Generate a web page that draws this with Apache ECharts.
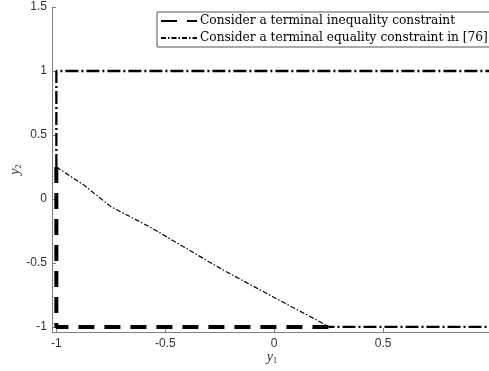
<!DOCTYPE html>
<html>
<head>
<meta charset="utf-8">
<script src="https://cdn.jsdelivr.net/npm/echarts@6/dist/echarts.min.js"></script>
<style>
  html, body { margin: 0; padding: 0; background: #fff; }
  #main { width: 489px; height: 371px; }
</style>
</head>
<body>
<div id="main"></div>
<script>
  // thick dashed part (terminal inequality constraint)
  var ineqX = [-1, -1, 0.25];
  var ineqY = [0.25, -1, -1];
  // shared boundary of the equality-constraint region
  var boundX = [-1, -1, 1, 1, 0.25];
  var boundY = [0.25, 1, 1, -1, -1];
  // lower-left boundary curve (terminal equality constraint in [76])
  var curveX = [-1, -0.875, -0.75, -0.57, -0.4, -0.24, 0, 0.21, 0.25];
  var curveY = [0.25, 0.11, -0.06, -0.22, -0.39, -0.55, -0.77, -0.96, -1];

  var xTicks = [-1, -0.5, 0, 0.5];
  var yTicks = [-1, -0.5, 0, 0.5, 1, 1.5];

  var nameIneq = 'Consider a terminal inequality constraint';
  var nameEq = 'Consider a terminal equality constraint in [76]';

  function pairs(xs, ys) {
    var out = [];
    for (var i = 0; i < xs.length; i++) out.push([xs[i], ys[i]]);
    return out;
  }

  var axisColor = '#808080';
  var labelColor = '#333';

  var myChart = echarts.init(document.getElementById('main'));
  var option = {
    animation: false,
    backgroundColor: '#fff',
    grid: { left: 52, top: 7, width: 440, height: 325, outerBoundsMode: 'none', containLabel: false },
    legend: {
      data: [nameIneq, nameEq],
      orient: 'vertical',
      left: 157,
      top: 12,
      padding: [3, 3, 3, 3],
      itemWidth: 36,
      itemHeight: 14,
      itemGap: 5,
      borderColor: '#555',
      borderWidth: 1,
      borderRadius: 0,
      backgroundColor: '#fff',
      itemStyle: { opacity: 0 },
      textStyle: { fontFamily: 'DejaVu Serif', fontSize: 12.2, color: '#000', padding: [0, 0, 0, -2] }
    },
    xAxis: {
      type: 'value',
      min: -1.02,
      max: 1,
      minInterval: 0.5,
      maxInterval: 0.5,
      name: '{a|y}{b|1}',
      nameLocation: 'middle',
      nameGap: 18,
      nameMoveOverlap: false,
      nameTextStyle: {
        rich: {
          a: { fontFamily: 'Liberation Serif', fontStyle: 'italic', fontSize: 14, color: labelColor },
          b: { fontFamily: 'Liberation Serif', fontSize: 9, color: labelColor, padding: [6, 0, 0, 0] }
        }
      },
      splitLine: { show: false },
      axisLine: { onZero: false, lineStyle: { color: axisColor } },
      axisTick: { inside: true, length: 4, lineStyle: { color: axisColor } },
      axisLabel: {
        showMinLabel: false, showMaxLabel: false, margin: 6,
        color: labelColor, fontFamily: 'Liberation Sans', fontSize: 12,
        formatter: function (v) { return xTicks.indexOf(v) >= 0 ? String(v) : ''; }
      }
    },
    yAxis: {
      type: 'value',
      min: -1.04,
      max: 1.5,
      minInterval: 0.5,
      maxInterval: 0.5,
      name: '{a|y}{b|2}',
      nameLocation: 'middle',
      nameGap: 29,
      nameMoveOverlap: false,
      nameTextStyle: {
        rich: {
          a: { fontFamily: 'Liberation Serif', fontStyle: 'italic', fontSize: 14, color: labelColor },
          b: { fontFamily: 'Liberation Serif', fontSize: 9, color: labelColor, padding: [6, 0, 0, 0] }
        }
      },
      splitLine: { show: false },
      axisLine: { onZero: false, lineStyle: { color: axisColor } },
      axisTick: { inside: true, length: 4, lineStyle: { color: axisColor } },
      axisLabel: {
        showMinLabel: false, margin: 5,
        color: labelColor, fontFamily: 'Liberation Sans', fontSize: 12,
        formatter: function (v) { return yTicks.indexOf(v) >= 0 ? String(v) : ''; }
      }
    },
    series: [
      {
        name: 'boundary',
        type: 'line',
        symbol: 'none',
        data: pairs(boundX, boundY),
        lineStyle: { color: '#000', width: 2.3, type: [13, 3, 2, 3] },
        z: 3
      },
      {
        name: nameIneq,
        type: 'line',
        symbol: 'none',
        data: pairs(ineqX, ineqY),
        lineStyle: { color: '#000', width: 4, type: [16, 10] },
        z: 2
      },
      {
        name: nameEq,
        type: 'line',
        symbol: 'none',
        data: pairs(curveX, curveY),
        lineStyle: { color: '#000', width: 1.2, type: [5, 2, 1.5, 2] },
        z: 4
      }
    ]
  };
  myChart.setOption(option, true);
</script>
</body>
</html>
